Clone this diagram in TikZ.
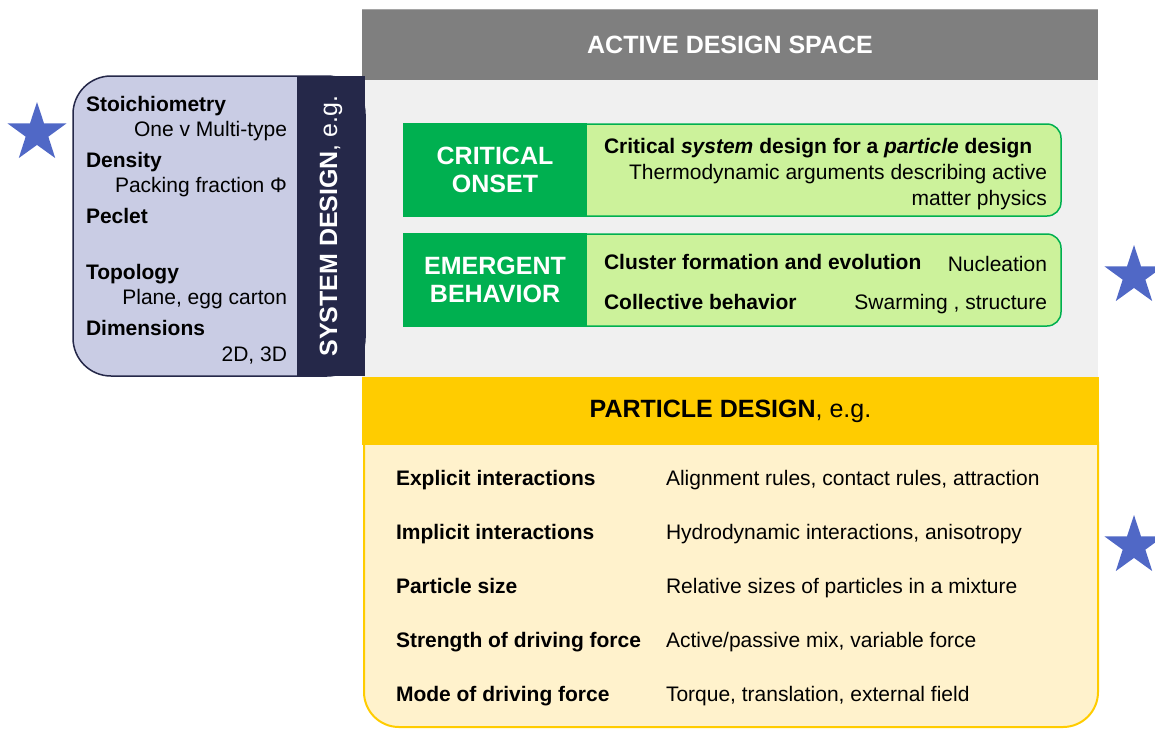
\documentclass[tikz,border=0pt]{standalone}
\usepackage{fontspec}
\setmainfont{Liberation Sans}
\usepackage{tikz}
\usetikzlibrary{shapes.geometric}

\definecolor{headgray}{HTML}{7F7F7F}
\definecolor{panelgray}{HTML}{F0F0F0}
\definecolor{lavender}{HTML}{C9CCE4}
\definecolor{navy}{HTML}{252849}
\definecolor{darkgreen}{HTML}{00B050}
\definecolor{lightgreen}{HTML}{CCF29B}
\definecolor{gold}{HTML}{FFCC00}
\definecolor{paleyellow}{HTML}{FFF2CC}
\definecolor{starblue}{HTML}{5068C6}

\begin{document}
\begin{tikzpicture}[x=1pt,y=-1pt]
    \tikzstyle{every node}=[inner sep=0pt, outer sep=0pt]
    \tikzstyle{body}=[font=\bodyfont, text height=15.1pt, text depth=0pt]
    \tikzstyle{body bold}=[body, font=\bodyfont\bfseries]
    \tikzstyle{heading}=[font=\headfont]
    \tikzstyle{heading bold}=[font=\headfont\bfseries, align=center]
    \tikzstyle{box}=[anchor=north west]
    \tikzstyle{light block}=[box, fill=lightgreen, draw=darkgreen, line width=1.5pt,
        rounded corners=14pt, minimum width=501, minimum height=92]
    \tikzstyle{dark block}=[box, fill=darkgreen, minimum width=184, minimum height=93.5]
    \tikzstyle{design star}=[star, star points=5, star point ratio=2.6,
        fill=starblue, minimum size=62pt]
    \def\bodyfont{\fontsize{21}{24}\selectfont}
    \def\headfont{\fontsize{25}{28}\selectfont}

    \useasboundingbox (0,0) rectangle (1155,729);

    % Draw the active design space with its header
    \node[box, fill=panelgray, minimum width=736, minimum height=297] (space) at (362,80) {};
    \node[box, fill=headgray, minimum width=736, minimum height=71] (ads) at (362,9) {};
    \draw[headgray!70, line width=1pt] (ads.north west) -- (ads.north east);
    \node[heading bold, text=white] at (ads) {ACTIVE DESIGN SPACE};

    % Draw the two green blocks
    \foreach \name / \y in {crit/124, emer/234} {
        \node[light block] (\name-r) at (560,\y) {};
        \node[dark block] (\name-l) at (403,\y-0.75) {};
    }
    \node[heading bold, text=white] at (crit-l) {CRITICAL\\ONSET};
    \node[heading bold, text=white] at (emer-l) {EMERGENT\\BEHAVIOR};

    \node[body bold, anchor=west] (crit-1) at (604,146)
        {Critical \textit{system} design for a \textit{particle} design};
    \node[body, anchor=east] (crit-2) at (1047,172) {Thermodynamic arguments describing active};
    \node[body, anchor=east] (crit-3) at (1047,198) {matter physics};

    \node[body bold, anchor=west] (emer-1) at (604,262) {Cluster formation and evolution};
    \node[body, anchor=east] (emer-2) at (1047,264) {Nucleation};
    \node[body bold, anchor=west] (emer-3) at (604,302) {Collective behavior};
    \node[body, anchor=east] (emer-4) at (1047,302) {Swarming , structure};

    % Draw the system design panel on the left
    \node[box, fill=lavender, draw=navy, line width=1.5pt, rounded corners=38pt,
        minimum width=292, minimum height=300] (sys) at (73,76) {};
    \node[box, fill=navy, minimum width=68, minimum height=300] (band) at (297,76) {};
    \node[heading, text=white, rotate=90] at (band) {\textbf{SYSTEM DESIGN}, e.g.};

    \foreach \i / \key in {1/Stoichiometry, 2/Density, 3/Peclet, 4/Topology, 5/Dimensions}
        \node[body bold, anchor=west] (sys-\i) at (86,48+56*\i) {\key};

    \node[body, anchor=east] (sysv-1) at (287,129) {One v Multi-type};
    \node[body, anchor=east] (sysv-2) at (287,185) {Packing fraction Φ};
    \node[body, anchor=east] (sysv-4) at (287,297) {Plane, egg carton};
    \node[body, anchor=east] (sysv-5) at (287,354) {2D, 3D};

    % Draw the particle design panel
    \node[anchor=south west, fill=paleyellow, draw=gold, line width=2pt, rounded corners=35pt,
        minimum width=734, minimum height=320] (part) at (364,727) {};
    \node[box, fill=gold, minimum width=737, minimum height=68] (pd) at (362,377) {};
    \node[heading] at (pd) {\textbf{PARTICLE DESIGN}, e.g.};

    \foreach \i / \key in {1/Explicit interactions, 2/Implicit interactions, 3/Particle size,
            4/Strength of driving force, 5/Mode of driving force}
        \node[body bold, anchor=west] (key-\i) at (396,424+54*\i) {\key};

    \node[body, anchor=west] (val-1) at ([xshift=270]key-1.west) {Alignment rules, contact rules, attraction};
    \node[body, anchor=west] (val-2) at ([xshift=270]key-2.west) {Hydrodynamic interactions, anisotropy};
    \node[body, anchor=west] (val-3) at ([xshift=270]key-3.west) {Relative sizes of particles in a mixture};
    \node[body, anchor=west] (val-4) at ([xshift=270]key-4.west) {Active/passive mix, variable force};
    \node[body, anchor=west] (val-5) at ([xshift=270]key-5.west) {Torque, translation, external field};

    % Draw the stars
    \foreach \name / \x / \y in {1/37/133, 2/1134/276, 3/1134/546}
        \node[design star] (star-\name) at (\x,\y) {};

\end{tikzpicture}
\end{document}
